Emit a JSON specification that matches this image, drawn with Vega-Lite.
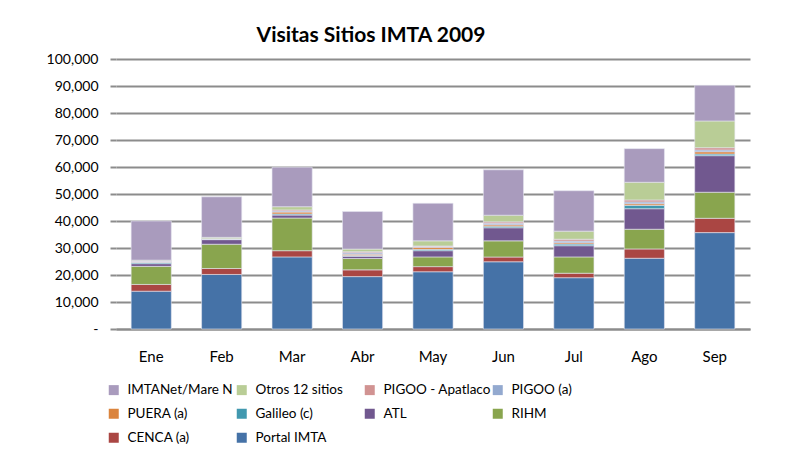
{
  "$schema": "https://vega.github.io/schema/vega-lite/v6.json",
  "autosize": "none",
  "padding": {"left": 116, "top": 59, "right": 46, "bottom": 121},
  "width": 634,
  "height": 270,
  "background": "white",
  "title": {"text": "Visitas Sitios IMTA 2009", "font": "Lato", "fontSize": 21, "fontWeight": "bold", "color": "#000000", "anchor": "middle", "dx": -62, "offset": 6},
  "data": {"values": [
    {"m":"Ene","s":"Portal IMTA","v":14000},{"m":"Ene","s":"CENCA (a)","v":2500},{"m":"Ene","s":"RIHM","v":6700},{"m":"Ene","s":"ATL","v":1000},{"m":"Ene","s":"Galileo (c)","v":500},{"m":"Ene","s":"PUERA (a)","v":100},{"m":"Ene","s":"PIGOO (a)","v":300},{"m":"Ene","s":"PIGOO - Apatlaco","v":100},{"m":"Ene","s":"Otros 12 sitios","v":300},{"m":"Ene","s":"IMTANet/Mare N","v":14500},
    {"m":"Feb","s":"Portal IMTA","v":20200},{"m":"Feb","s":"CENCA (a)","v":2200},{"m":"Feb","s":"RIHM","v":9000},{"m":"Feb","s":"ATL","v":1700},{"m":"Feb","s":"Galileo (c)","v":100},{"m":"Feb","s":"PUERA (a)","v":50},{"m":"Feb","s":"PIGOO (a)","v":150},{"m":"Feb","s":"PIGOO - Apatlaco","v":50},{"m":"Feb","s":"Otros 12 sitios","v":500},{"m":"Feb","s":"IMTANet/Mare N","v":15000},
    {"m":"Mar","s":"Portal IMTA","v":26700},{"m":"Mar","s":"CENCA (a)","v":2300},{"m":"Mar","s":"RIHM","v":12100},{"m":"Mar","s":"ATL","v":1100},{"m":"Mar","s":"Galileo (c)","v":400},{"m":"Mar","s":"PUERA (a)","v":700},{"m":"Mar","s":"PIGOO (a)","v":400},{"m":"Mar","s":"PIGOO - Apatlaco","v":400},{"m":"Mar","s":"Otros 12 sitios","v":1200},{"m":"Mar","s":"IMTANet/Mare N","v":14600},
    {"m":"Abr","s":"Portal IMTA","v":19400},{"m":"Abr","s":"CENCA (a)","v":2500},{"m":"Abr","s":"RIHM","v":4200},{"m":"Abr","s":"ATL","v":800},{"m":"Abr","s":"Galileo (c)","v":300},{"m":"Abr","s":"PUERA (a)","v":500},{"m":"Abr","s":"PIGOO (a)","v":500},{"m":"Abr","s":"PIGOO - Apatlaco","v":400},{"m":"Abr","s":"Otros 12 sitios","v":1000},{"m":"Abr","s":"IMTANet/Mare N","v":13900},
    {"m":"May","s":"Portal IMTA","v":21200},{"m":"May","s":"CENCA (a)","v":1900},{"m":"May","s":"RIHM","v":3600},{"m":"May","s":"ATL","v":2300},{"m":"May","s":"Galileo (c)","v":500},{"m":"May","s":"PUERA (a)","v":750},{"m":"May","s":"PIGOO (a)","v":350},{"m":"May","s":"PIGOO - Apatlaco","v":150},{"m":"May","s":"Otros 12 sitios","v":1900},{"m":"May","s":"IMTANet/Mare N","v":13900},
    {"m":"Jun","s":"Portal IMTA","v":24900},{"m":"Jun","s":"CENCA (a)","v":1750},{"m":"Jun","s":"RIHM","v":6000},{"m":"Jun","s":"ATL","v":4850},{"m":"Jun","s":"Galileo (c)","v":600},{"m":"Jun","s":"PUERA (a)","v":500},{"m":"Jun","s":"PIGOO (a)","v":600},{"m":"Jun","s":"PIGOO - Apatlaco","v":500},{"m":"Jun","s":"Otros 12 sitios","v":2450},{"m":"Jun","s":"IMTANet/Mare N","v":16800},
    {"m":"Jul","s":"Portal IMTA","v":19000},{"m":"Jul","s":"CENCA (a)","v":1650},{"m":"Jul","s":"RIHM","v":6050},{"m":"Jul","s":"ATL","v":4150},{"m":"Jul","s":"Galileo (c)","v":600},{"m":"Jul","s":"PUERA (a)","v":500},{"m":"Jul","s":"PIGOO (a)","v":600},{"m":"Jul","s":"PIGOO - Apatlaco","v":700},{"m":"Jul","s":"Otros 12 sitios","v":3000},{"m":"Jul","s":"IMTANet/Mare N","v":14950},
    {"m":"Ago","s":"Portal IMTA","v":26200},{"m":"Ago","s":"CENCA (a)","v":3450},{"m":"Ago","s":"RIHM","v":7300},{"m":"Ago","s":"ATL","v":7600},{"m":"Ago","s":"Galileo (c)","v":1250},{"m":"Ago","s":"PUERA (a)","v":600},{"m":"Ago","s":"PIGOO (a)","v":650},{"m":"Ago","s":"PIGOO - Apatlaco","v":750},{"m":"Ago","s":"Otros 12 sitios","v":6550},{"m":"Ago","s":"IMTANet/Mare N","v":12450},
    {"m":"Sep","s":"Portal IMTA","v":35700},{"m":"Sep","s":"CENCA (a)","v":5300},{"m":"Sep","s":"RIHM","v":9650},{"m":"Sep","s":"ATL","v":13550},{"m":"Sep","s":"Galileo (c)","v":600},{"m":"Sep","s":"PUERA (a)","v":850},{"m":"Sep","s":"PIGOO (a)","v":650},{"m":"Sep","s":"PIGOO - Apatlaco","v":850},{"m":"Sep","s":"Otros 12 sitios","v":9900},{"m":"Sep","s":"IMTANet/Mare N","v":13200}
  ]},
  "transform": [
    {"calculate": "indexof(['Portal IMTA','CENCA (a)','RIHM','ATL','Galileo (c)','PUERA (a)','PIGOO (a)','PIGOO - Apatlaco','Otros 12 sitios','IMTANet/Mare N'], datum.s)", "as": "k"}
  ],
  "mark": {"type": "bar", "stroke": "#e6e6f0", "strokeWidth": 0.6},
  "encoding": {
    "x": {
      "field": "m", "type": "nominal",
      "sort": ["Ene","Feb","Mar","Abr","May","Jun","Jul","Ago","Sep"],
      "scale": {"paddingInner": 0.43, "paddingOuter": 0.215},
      "axis": {"title": null, "labelAngle": 0, "ticks": false, "labelPadding": 20, "labelFont": "Lato", "labelFontSize": 15, "labelColor": "#000000", "domain": true, "domainColor": "#8c8c8c", "domainWidth": 2}
    },
    "y": {
      "field": "v", "type": "quantitative", "stack": "zero",
      "scale": {"domain": [0, 100000], "nice": false},
      "axis": {"title": null, "values": [0,10000,20000,30000,40000,50000,60000,70000,80000,90000,100000],
        "labelExpr": "datum.value == 0 ? '-   ' : format(datum.value, ',')",
        "labelFont": "Lato", "labelFontSize": 14, "labelColor": "#000000", "labelPadding": 12,
        "tickSize": 6, "tickColor": "#8c8c8c", "tickWidth": 2, "domain": false,
        "grid": true, "gridColor": "#8c8c8c", "gridWidth": 2}
    },
    "order": {"field": "k", "type": "quantitative", "sort": "ascending"},
    "color": {
      "field": "s", "type": "nominal",
      "scale": {
        "domain": ["IMTANet/Mare N","Otros 12 sitios","PIGOO - Apatlaco","PIGOO (a)","PUERA (a)","Galileo (c)","ATL","RIHM","CENCA (a)","Portal IMTA"],
        "range": ["#A99BBD","#B9CD96","#D19392","#93A9CF","#DB843D","#4198AF","#71588F","#89A54E","#AA4643","#4572A7"]
      },
      "legend": {"title": null, "orient": "none", "legendX": -9, "legendY": 324, "direction": "horizontal", "columns": 4, "gridAlign": "all",
        "symbolType": "square", "symbolSize": 100, "symbolStrokeWidth": 0, "symbolOffset": 0,
        "labelFont": "Lato", "labelFontSize": 13.5, "labelColor": "#000000", "labelOffset": 7,
        "columnPadding": -3, "rowPadding": 9, "labelLimit": 200}
    }
  },
  "config": {"view": {"stroke": null}}
}
